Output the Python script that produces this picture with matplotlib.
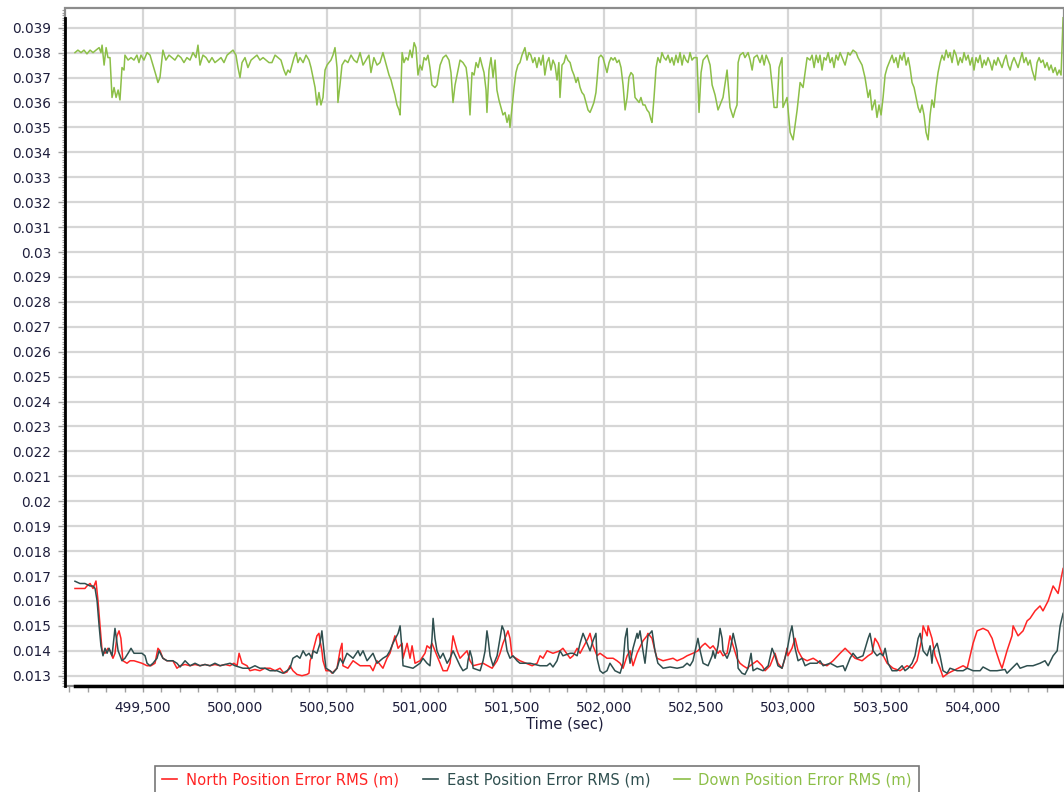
import numpy as np
import matplotlib.pyplot as plt
from matplotlib.ticker import MultipleLocator, FuncFormatter
from matplotlib.patches import Rectangle
from matplotlib.lines import Line2D

# North position error RMS (m)
north_t = [499131, 499158, 499185, 499196, 499213, 499229, 499245, 499256, 499267, 499278,
           499294, 499310, 499321, 499337, 499348, 499359, 499370, 499380, 499391, 499413,
           499430, 499451, 499473, 499494, 499522, 499543, 499565, 499581, 499592, 499608,
           499630, 499662, 499684, 499701, 499728, 499755, 499782, 499809, 499836, 499863,
           499890, 499918, 499945, 499972, 499993, 500010, 500021, 500037, 500064, 500080,
           500107, 500134, 500161, 500189, 500216, 500243, 500264, 500281, 500297, 500313,
           500335, 500362, 500389, 500400, 500406, 500416, 500422, 500443, 500454, 500460,
           500470, 500476, 500492, 500514, 500525, 500552, 500568, 500579, 500584, 500611,
           500639, 500677, 500731, 500747, 500769, 500801, 500823, 500839, 500866, 500883,
           500905, 500910, 500932, 500948, 500959, 500975, 501002, 501029, 501040, 501056,
           501067, 501094, 501111, 501127, 501149, 501165, 501181, 501203, 501219, 501257,
           501273, 501290, 501344, 501393, 501420, 501436, 501452, 501479, 501490, 501501,
           501544, 501610, 501637, 501653, 501669, 501691, 501723, 501761, 501777, 501816,
           501832, 501854, 501870, 501913, 501924, 501940, 501962, 501978, 502016, 502049,
           502070, 502087, 502103, 502125, 502141, 502157, 502179, 502211, 502233, 502238,
           502260, 502276, 502287, 502320, 502374, 502396, 502428, 502450, 502482, 502509,
           502532, 502548, 502575, 502591, 502618, 502629, 502645, 502667, 502683, 502700,
           502721, 502737, 502754, 502775, 502792, 502830, 502857, 502873, 502900, 502927,
           502943, 502965, 502981, 502992, 502997, 503019, 503036, 503052, 503074, 503101,
           503134, 503155, 503171, 503209, 503242, 503280, 503307, 503334, 503361, 503399,
           503432, 503453, 503469, 503486, 503507, 503535, 503567, 503605, 503643, 503670,
           503697, 503724, 503730, 503752, 503757, 503778, 503795, 503822, 503838, 503866,
           503893, 503920, 503947, 503969, 503985, 504001, 504023, 504055, 504082, 504104,
           504120, 504147, 504158, 504185, 504212, 504218, 504245, 504272, 504294, 504310,
           504337, 504364, 504380, 504408, 504435, 504462, 504489]
north = [0.0165, 0.0165, 0.0165, 0.0166, 0.0167, 0.0165, 0.0168, 0.0160, 0.0150, 0.0140,
         0.0139, 0.0141, 0.0140, 0.0137, 0.0139, 0.0146, 0.0148, 0.0145, 0.0136, 0.0135,
         0.0136, 0.0136, 0.01355, 0.0135, 0.0134, 0.0134, 0.0135, 0.0141, 0.0140, 0.0137,
         0.0136, 0.0136, 0.0133, 0.0134, 0.01345, 0.0134, 0.01345, 0.0134, 0.01345, 0.0134,
         0.01345, 0.0134, 0.01345, 0.0134, 0.0135, 0.0134, 0.0139, 0.0135, 0.0134, 0.0132,
         0.01325, 0.0132, 0.0133, 0.0133, 0.0132, 0.0133, 0.0131, 0.01315, 0.0134, 0.0132,
         0.01305, 0.0130, 0.01305, 0.0131, 0.0136, 0.0138, 0.0140, 0.0146, 0.0147, 0.0144,
         0.0140, 0.0136, 0.0132, 0.0132, 0.0131, 0.0133, 0.0140, 0.0143, 0.0134, 0.0133,
         0.0136, 0.0134, 0.0134, 0.0132, 0.0136, 0.0133, 0.0137, 0.0139, 0.0146, 0.0141,
         0.0143, 0.0137, 0.0143, 0.0137, 0.0142, 0.0135, 0.0136, 0.0139, 0.0142, 0.0141,
         0.0143, 0.0138, 0.0135, 0.0132, 0.0132, 0.0135, 0.0146, 0.0140, 0.0137, 0.0140,
         0.0136, 0.0134, 0.0135, 0.0133, 0.0136, 0.0139, 0.0143, 0.0148, 0.0145, 0.0138,
         0.0136, 0.0134, 0.0135, 0.0138, 0.0137, 0.0140, 0.0139, 0.0140, 0.0141, 0.0137,
         0.0138, 0.0141, 0.0139, 0.0145, 0.0147, 0.0142, 0.0138, 0.0139, 0.0137, 0.0137,
         0.0136, 0.0135, 0.0133, 0.0138, 0.0140, 0.0134, 0.0139, 0.0144, 0.0146, 0.0147,
         0.0145, 0.0140, 0.0137, 0.0136, 0.0137, 0.0136, 0.0137, 0.0138, 0.0139, 0.0140,
         0.0142, 0.0143, 0.0141, 0.0142, 0.0139, 0.0140, 0.0138, 0.0139, 0.0146, 0.0142,
         0.0137, 0.0135, 0.0134, 0.0133, 0.0134, 0.0136, 0.0134, 0.0132, 0.0134, 0.0139,
         0.0135, 0.0133, 0.0137, 0.0141, 0.0138, 0.0141, 0.0145, 0.0140, 0.0137, 0.0136,
         0.0137, 0.0136, 0.0135, 0.0134, 0.0136, 0.0139, 0.0141, 0.0139, 0.0137, 0.0136,
         0.0138, 0.0139, 0.0145, 0.0143, 0.0139, 0.0135, 0.0133, 0.0132, 0.0134, 0.0133,
         0.0136, 0.0145, 0.0150, 0.0146, 0.0150, 0.0145, 0.0138, 0.0133, 0.01295, 0.0131,
         0.0132, 0.0133, 0.0134, 0.0133, 0.0138, 0.0143, 0.0148, 0.0149, 0.0148, 0.0145,
         0.0141, 0.0135, 0.0133, 0.0140, 0.0146, 0.0150, 0.0146, 0.0148, 0.0152, 0.0153,
         0.0156, 0.0158, 0.0156, 0.0160, 0.0166, 0.0163, 0.0173]

# East position error RMS (m)
east_t = [499131, 499158, 499185, 499213, 499229, 499240, 499251, 499262, 499272, 499283,
          499294, 499305, 499316, 499332, 499348, 499359, 499365, 499386, 499402, 499419,
          499435, 499451, 499473, 499494, 499511, 499522, 499538, 499554, 499576, 499587,
          499608, 499630, 499662, 499684, 499701, 499728, 499755, 499782, 499809, 499836,
          499863, 499890, 499918, 499945, 499972, 499999, 500042, 500080, 500107, 500134,
          500161, 500189, 500226, 500259, 500281, 500297, 500313, 500335, 500351, 500368,
          500384, 500400, 500416, 500422, 500443, 500460, 500470, 500481, 500492, 500514,
          500530, 500552, 500568, 500584, 500606, 500639, 500666, 500677, 500693, 500715,
          500747, 500769, 500801, 500823, 500839, 500855, 500883, 500894, 500905, 500910,
          500964, 501002, 501018, 501040, 501056, 501067, 501073, 501083, 501094, 501111,
          501127, 501149, 501165, 501181, 501219, 501235, 501257, 501262, 501273, 501284,
          501290, 501328, 501344, 501355, 501365, 501371, 501382, 501398, 501420, 501436,
          501447, 501458, 501474, 501490, 501506, 501528, 501544, 501599, 501653, 501691,
          501707, 501723, 501745, 501761, 501777, 501816, 501832, 501854, 501870, 501886,
          501908, 501924, 501940, 501956, 501962, 501978, 501994, 502016, 502032, 502059,
          502087, 502103, 502114, 502125, 502130, 502141, 502157, 502179, 502184, 502195,
          502211, 502222, 502238, 502260, 502276, 502292, 502320, 502358, 502396, 502428,
          502450, 502466, 502482, 502509, 502521, 502537, 502564, 502586, 502591, 502602,
          502618, 502629, 502640, 502645, 502667, 502683, 502700, 502721, 502727, 502748,
          502764, 502781, 502797, 502808, 502830, 502862, 502890, 502911, 502927, 502943,
          502965, 502992, 503009, 503019, 503036, 503052, 503074, 503090, 503117, 503155,
          503171, 503188, 503226, 503264, 503296, 503307, 503334, 503350, 503372, 503404,
          503432, 503442, 503459, 503480, 503497, 503513, 503524, 503540, 503562, 503589,
          503616, 503632, 503649, 503670, 503686, 503703, 503714, 503730, 503752, 503768,
          503778, 503784, 503806, 503822, 503838, 503860, 503876, 503914, 503947, 503969,
          504001, 504039, 504055, 504093, 504131, 504174, 504185, 504212, 504239, 504256,
          504294, 504326, 504364, 504391, 504408, 504435, 504457, 504473, 504489]
east = [0.01679, 0.0167, 0.0167, 0.0166, 0.0166, 0.0165, 0.0160, 0.0150, 0.0142, 0.0138,
        0.0141, 0.0139, 0.0141, 0.0138, 0.0149, 0.0143, 0.0140, 0.0136, 0.0137, 0.0139,
        0.0141, 0.0139, 0.0139, 0.0139, 0.0138, 0.0135, 0.0134, 0.0135, 0.0137, 0.0140,
        0.0137, 0.0136, 0.0136, 0.0135, 0.01335, 0.0136, 0.0134, 0.0135, 0.0134, 0.01345,
        0.0134, 0.0135, 0.0134, 0.01345, 0.0135, 0.0134, 0.0133, 0.0133, 0.0134, 0.0133,
        0.0133, 0.0132, 0.0132, 0.0131, 0.0132, 0.0133, 0.0137, 0.0138, 0.0137, 0.0140,
        0.0138, 0.0139, 0.0137, 0.0140, 0.0139, 0.0143, 0.0148, 0.0140, 0.0133, 0.0132,
        0.0131, 0.0133, 0.0137, 0.0135, 0.0139, 0.0137, 0.0140, 0.0138, 0.0140, 0.0136,
        0.0139, 0.0135, 0.0137, 0.0138, 0.0140, 0.0143, 0.0147, 0.0150, 0.0140, 0.0134,
        0.0133, 0.0135, 0.0137, 0.0135, 0.0134, 0.0145, 0.0153, 0.0145, 0.0140, 0.0137,
        0.0139, 0.0135, 0.0137, 0.0140, 0.0134, 0.0132, 0.0133, 0.0136, 0.0140, 0.0137,
        0.0133, 0.0132, 0.0136, 0.0140, 0.0148, 0.0145, 0.0138, 0.0134, 0.0138, 0.0145,
        0.0150, 0.0148, 0.0140, 0.0137, 0.0138, 0.0136, 0.0135, 0.0135, 0.0134, 0.0134,
        0.0135, 0.01335, 0.0136, 0.0140, 0.0138, 0.0139, 0.0139, 0.0138, 0.0143, 0.0147,
        0.0143, 0.0140, 0.0144, 0.0147, 0.0137, 0.0132, 0.0131, 0.0132, 0.0135, 0.0132,
        0.0131, 0.0135, 0.0145, 0.0149, 0.0141, 0.0135, 0.0141, 0.0147, 0.0145, 0.0148,
        0.0140, 0.0135, 0.0146, 0.0148, 0.0140, 0.0135, 0.0133, 0.01335, 0.0133, 0.01335,
        0.0135, 0.0134, 0.0136, 0.0145, 0.0140, 0.0135, 0.0134, 0.0138, 0.0140, 0.0137,
        0.0142, 0.0149, 0.0145, 0.0140, 0.0137, 0.0140, 0.0147, 0.0140, 0.0133, 0.0131,
        0.01305, 0.0133, 0.0139, 0.0132, 0.0133, 0.0132, 0.0134, 0.0141, 0.0138, 0.0134,
        0.0133, 0.0140, 0.0147, 0.0150, 0.0141, 0.0136, 0.0137, 0.0134, 0.0135, 0.0135,
        0.0136, 0.0134, 0.0135, 0.01335, 0.0134, 0.0132, 0.0137, 0.0139, 0.0137, 0.0138,
        0.0145, 0.0147, 0.0140, 0.0138, 0.0139, 0.0138, 0.0141, 0.0135, 0.0132, 0.0132,
        0.0134, 0.0132, 0.0133, 0.0135, 0.0138, 0.0145, 0.0147, 0.0140, 0.0138, 0.0142,
        0.0135, 0.0140, 0.0143, 0.0138, 0.0132, 0.0131, 0.0133, 0.0132, 0.0132, 0.0133,
        0.0132, 0.0132, 0.01335, 0.0132, 0.0132, 0.01325, 0.0131, 0.0133, 0.0135, 0.0133,
        0.0134, 0.0134, 0.0135, 0.0136, 0.0134, 0.0138, 0.0140, 0.0150, 0.0155]

# Down position error RMS (m)
down_t = [499131, 499147, 499164, 499180, 499196, 499213, 499229, 499245, 499262, 499272,
          499278, 499289, 499300, 499310, 499321, 499332, 499343, 499354, 499365, 499375,
          499386, 499397, 499402, 499419, 499435, 499451, 499467, 499478, 499489, 499505,
          499522, 499538, 499554, 499570, 499581, 499592, 499608, 499624, 499641, 499657,
          499673, 499690, 499706, 499722, 499738, 499755, 499771, 499787, 499798, 499809,
          499825, 499842, 499858, 499874, 499890, 499907, 499923, 499939, 499956, 499972,
          499988, 500004, 500015, 500026, 500037, 500053, 500069, 500086, 500102, 500118,
          500134, 500151, 500167, 500183, 500199, 500216, 500232, 500248, 500264, 500275,
          500286, 500297, 500308, 500319, 500330, 500340, 500351, 500368, 500384, 500400,
          500411, 500422, 500433, 500443, 500454, 500465, 500476, 500487, 500498, 500508,
          500519, 500530, 500541, 500552, 500557, 500568, 500579, 500595, 500611, 500628,
          500644, 500660, 500677, 500693, 500709, 500725, 500736, 500752, 500769, 500785,
          500801, 500812, 500823, 500834, 500845, 500855, 500866, 500877, 500888, 500894,
          500905, 500915, 500926, 500937, 500948, 500959, 500970, 500980, 500991, 501002,
          501013, 501024, 501035, 501045, 501056, 501067, 501083, 501094, 501111, 501127,
          501143, 501159, 501170, 501181, 501192, 501203, 501219, 501235, 501252, 501262,
          501273, 501284, 501295, 501306, 501317, 501328, 501338, 501349, 501360, 501365,
          501376, 501387, 501398, 501409, 501419, 501430, 501441, 501452, 501463, 501474,
          501484, 501490, 501501, 501512, 501522, 501533, 501544, 501555, 501571, 501582,
          501593, 501603, 501614, 501625, 501636, 501647, 501658, 501669, 501679, 501690,
          501701, 501712, 501723, 501734, 501745, 501755, 501761, 501772, 501783, 501793,
          501804, 501816, 501826, 501837, 501848, 501858, 501870, 501880, 501891, 501902,
          501913, 501924, 501935, 501945, 501956, 501962, 501972, 501983, 501994, 502005,
          502016, 502027, 502038, 502049, 502059, 502070, 502081, 502092, 502103, 502114,
          502125, 502135, 502146, 502157, 502168, 502179, 502190, 502200, 502211, 502222,
          502233, 502244, 502255, 502260, 502271, 502282, 502292, 502304, 502314, 502325,
          502336, 502347, 502358, 502368, 502379, 502390, 502401, 502412, 502423, 502433,
          502444, 502455, 502466, 502477, 502488, 502504, 502515, 502526, 502537, 502548,
          502559, 502575, 502586, 502602, 502618, 502629, 502645, 502667, 502683, 502700,
          502711, 502721, 502727, 502737, 502754, 502764, 502781, 502792, 502803, 502813,
          502830, 502846, 502857, 502868, 502879, 502890, 502900, 502911, 502922, 502938,
          502949, 502965, 502970, 502992, 503009, 503025, 503047, 503063, 503079, 503101,
          503117, 503128, 503139, 503150, 503161, 503171, 503182, 503193, 503204, 503215,
          503226, 503237, 503247, 503258, 503269, 503280, 503291, 503307, 503323, 503334,
          503350, 503367, 503377, 503399, 503415, 503432, 503442, 503453, 503469, 503480,
          503491, 503502, 503513, 503524, 503535, 503551, 503562, 503572, 503583, 503594,
          503605, 503616, 503627, 503638, 503649, 503659, 503670, 503681, 503692, 503703,
          503714, 503724, 503735, 503746, 503757, 503768, 503778, 503789, 503800, 503811,
          503822, 503833, 503844, 503855, 503866, 503876, 503887, 503898, 503909, 503920,
          503931, 503942, 503952, 503963, 503974, 503985, 503996, 504006, 504017, 504028,
          504039, 504050, 504061, 504071, 504082, 504093, 504104, 504115, 504126, 504136,
          504147, 504158, 504169, 504180, 504191, 504202, 504212, 504223, 504234, 504245,
          504256, 504267, 504277, 504288, 504299, 504310, 504321, 504337, 504348, 504359,
          504369, 504380, 504391, 504402, 504413, 504424, 504435, 504446, 504457, 504468,
          504478, 504489]
down = [0.0380, 0.0381, 0.0380, 0.0381, 0.03795, 0.0381, 0.0380, 0.0381, 0.0382, 0.0380,
        0.0383, 0.0375, 0.0382, 0.0378, 0.0378, 0.0362, 0.0366, 0.0362, 0.0365, 0.0361,
        0.0374, 0.0373, 0.0379, 0.0377, 0.0378, 0.0377, 0.0379, 0.0376, 0.0379, 0.0377,
        0.0380, 0.0379, 0.0375, 0.0371, 0.0368, 0.0370, 0.0381, 0.0377, 0.0379, 0.0378,
        0.0377, 0.0379, 0.0378, 0.0376, 0.0378, 0.0377, 0.0380, 0.0378, 0.0383, 0.0375,
        0.0379, 0.0378, 0.0376, 0.0378, 0.0376, 0.0377, 0.0378, 0.0376, 0.0379, 0.0380,
        0.0381, 0.0379, 0.0374, 0.0370, 0.0376, 0.0378, 0.0374, 0.0377, 0.0378, 0.0379,
        0.0377, 0.0378, 0.0377, 0.0376, 0.0376, 0.0379, 0.0378, 0.0377, 0.0373, 0.0371,
        0.0373, 0.0372, 0.0375, 0.0378, 0.0380, 0.0376, 0.0378, 0.0376, 0.0379, 0.0377,
        0.0374, 0.0370, 0.0366, 0.0359, 0.0364, 0.0359, 0.0362, 0.0373, 0.0375, 0.0376,
        0.0377, 0.0379, 0.0382, 0.0374, 0.0360, 0.0367, 0.0375, 0.0377, 0.0376, 0.0379,
        0.0377, 0.0376, 0.0380, 0.0375, 0.0377, 0.0379, 0.0372, 0.0378, 0.0375, 0.0376,
        0.0380, 0.0377, 0.0374, 0.0371, 0.0369, 0.0366, 0.0363, 0.0359, 0.0357, 0.0355,
        0.0380, 0.0376, 0.0378, 0.0377, 0.0381, 0.0378, 0.0384, 0.0382, 0.0371, 0.0375,
        0.0373, 0.0378, 0.0377, 0.0379, 0.0374, 0.0367, 0.0366, 0.0367, 0.0375, 0.0378,
        0.0379, 0.0377, 0.0372, 0.0360, 0.0367, 0.0371, 0.0377, 0.0376, 0.0374, 0.0368,
        0.0355, 0.0372, 0.0371, 0.0376, 0.0374, 0.0378, 0.0375, 0.0372, 0.0365, 0.0356,
        0.0373, 0.0378, 0.0370, 0.0377, 0.0365, 0.0361, 0.0358, 0.0355, 0.0356, 0.0352,
        0.0355, 0.0350, 0.0358, 0.0366, 0.0372, 0.0375, 0.0376, 0.0379, 0.0382, 0.0377,
        0.0380, 0.0379, 0.0376, 0.0378, 0.0374, 0.0378, 0.0375, 0.0379, 0.0371, 0.0376,
        0.0378, 0.0373, 0.0377, 0.0375, 0.0369, 0.0376, 0.0362, 0.0375, 0.0376, 0.0379,
        0.0377, 0.0376, 0.0373, 0.0371, 0.0368, 0.0370, 0.0366, 0.0364, 0.0363, 0.0360,
        0.0357, 0.0356, 0.0358, 0.0360, 0.0364, 0.0369, 0.0378, 0.0379, 0.0378, 0.0375,
        0.0372, 0.0376, 0.0378, 0.0377, 0.0378, 0.0376, 0.0377, 0.0374, 0.0367, 0.0357,
        0.0362, 0.0370, 0.0372, 0.0371, 0.0362, 0.0361, 0.0360, 0.0362, 0.0359, 0.0359,
        0.0357, 0.0356, 0.0353, 0.0352, 0.0362, 0.0374, 0.0378, 0.0376, 0.0380, 0.0378,
        0.0377, 0.0379, 0.0376, 0.0378, 0.0375, 0.0379, 0.0376, 0.0380, 0.0375, 0.0379,
        0.0377, 0.0376, 0.0380, 0.0377, 0.0378, 0.0378, 0.0356, 0.0372, 0.0377, 0.0378,
        0.0379, 0.0375, 0.0367, 0.0363, 0.0357, 0.0359, 0.0362, 0.0373, 0.0358, 0.0354,
        0.0357, 0.0359, 0.0376, 0.0379, 0.0380, 0.0378, 0.0380, 0.0377, 0.0373, 0.0378,
        0.0379, 0.0376, 0.0379, 0.0375, 0.0379, 0.0377, 0.0375, 0.0367, 0.0358, 0.0358,
        0.0374, 0.0378, 0.0358, 0.0362, 0.0348, 0.0345, 0.0357, 0.0368, 0.0366, 0.0378,
        0.0377, 0.0379, 0.0374, 0.0379, 0.0376, 0.0379, 0.0373, 0.0378, 0.0377, 0.0380,
        0.0376, 0.0378, 0.0374, 0.0379, 0.0377, 0.0380, 0.0378, 0.0375, 0.0380, 0.0379,
        0.0381, 0.0380, 0.0378, 0.0375, 0.0370, 0.0362, 0.0365, 0.0357, 0.0361, 0.0354,
        0.0359, 0.0355, 0.0362, 0.0371, 0.0374, 0.0377, 0.0379, 0.0376, 0.0378, 0.0374,
        0.0379, 0.0377, 0.0380, 0.0375, 0.0378, 0.0374, 0.0368, 0.0366, 0.0362, 0.0358,
        0.0356, 0.0359, 0.0355, 0.0348, 0.0345, 0.0355, 0.0361, 0.0358, 0.0366, 0.0372,
        0.0376, 0.0379, 0.0377, 0.0381, 0.0378, 0.0380, 0.0376, 0.0381, 0.0379, 0.0375,
        0.0378, 0.0376, 0.0380, 0.0377, 0.0379, 0.0375, 0.0378, 0.0373, 0.0378, 0.0376,
        0.0379, 0.0374, 0.0377, 0.0375, 0.0378, 0.0376, 0.0373, 0.0377, 0.0375, 0.0378,
        0.0376, 0.0374, 0.0377, 0.0379, 0.0375, 0.0373, 0.0376, 0.0378, 0.0376, 0.0374,
        0.0377, 0.0380, 0.0376, 0.0378, 0.0375, 0.0377, 0.0373, 0.0369, 0.0376, 0.0378,
        0.0376, 0.0377, 0.0374, 0.0376, 0.0373, 0.0375, 0.0372, 0.0374, 0.0371, 0.0373,
        0.0371, 0.0394]

series = [
    ("North Position Error RMS (m)", north_t, north, "#ff2424"),
    ("East Position Error RMS (m)", east_t, east, "#2f4f4f"),
    ("Down Position Error RMS (m)", down_t, down, "#8cbf48"),
]

W, H = 1064, 792
fig = plt.figure(figsize=(W / 100, H / 100), dpi=100)
ax = fig.add_axes([65 / W, 106 / H, 999 / W, 678 / H])

for name, t, v, c in series:
    ax.plot(t, v, color=c, linewidth=1.1, label=name)

x_lo, x_hi = 499077, 504494
y_lo, y_hi = 0.012587, 0.03979
ax.set_xlim(x_lo, x_hi)
ax.set_ylim(y_lo, y_hi)

ax.xaxis.set_major_locator(MultipleLocator(500))
ax.xaxis.set_minor_locator(MultipleLocator(100))
ax.yaxis.set_major_locator(MultipleLocator(0.001))
ax.yaxis.set_minor_locator(MultipleLocator(0.0001))
ax.xaxis.set_major_formatter(FuncFormatter(lambda v, p: f"{v:,.0f}"))
ax.yaxis.set_major_formatter(FuncFormatter(lambda v, p: f"{round(v, 3):g}"))

label_color = "#1e1e3c"
ax.tick_params(axis="both", which="both", direction="out", color="#a0a0a0",
               labelcolor=label_color, labelsize=9.8)
ax.tick_params(axis="y", which="major", length=5, width=1, pad=5)
ax.tick_params(axis="y", which="minor", length=2.5, width=0.8)
ax.tick_params(axis="x", which="both", length=4, width=1, pad=7)

ax.grid(True, which="major", color="#d6d6d6", linewidth=1.6)
ax.set_axisbelow(True)

# gray plot outline, black axis lines over the data range
for s in ax.spines.values():
    s.set_visible(False)
ax.add_patch(Rectangle((0, 0), 1, 1, transform=ax.transAxes, fill=False,
                       edgecolor="#8c8c8c", linewidth=1.6, clip_on=False, zorder=4))
ax.spines["left"].set_visible(True)
ax.spines["left"].set_color("black")
ax.spines["left"].set_linewidth(2)
ax.spines["left"].set_bounds(y_lo, max(down))
ax.spines["left"].set_zorder(5)
ax.spines["bottom"].set_visible(True)
ax.spines["bottom"].set_color("black")
ax.spines["bottom"].set_linewidth(2.5)
ax.spines["bottom"].set_bounds(min(north_t), x_hi)
ax.spines["bottom"].set_zorder(5)

ax.set_xlabel("Time (sec)", fontsize=10.6, color=label_color, labelpad=1)

handles = [Line2D([], [], color=c, linewidth=1.2) for _, _, _, c in series]
leg = fig.legend(handles, [s[0] for s in series], loc="lower center",
                 bbox_to_anchor=(537 / W, -0.006), ncol=3, frameon=True,
                 fancybox=False, edgecolor="#555555", fontsize=10.6,
                 handlelength=1.05, handletextpad=0.6, columnspacing=1.6,
                 borderpad=0.45, borderaxespad=0.2)
leg.get_frame().set_linewidth(1.2)
for txt, (_, _, _, c) in zip(leg.get_texts(), series):
    txt.set_color(c)

fig.savefig("out.png", dpi=100)
